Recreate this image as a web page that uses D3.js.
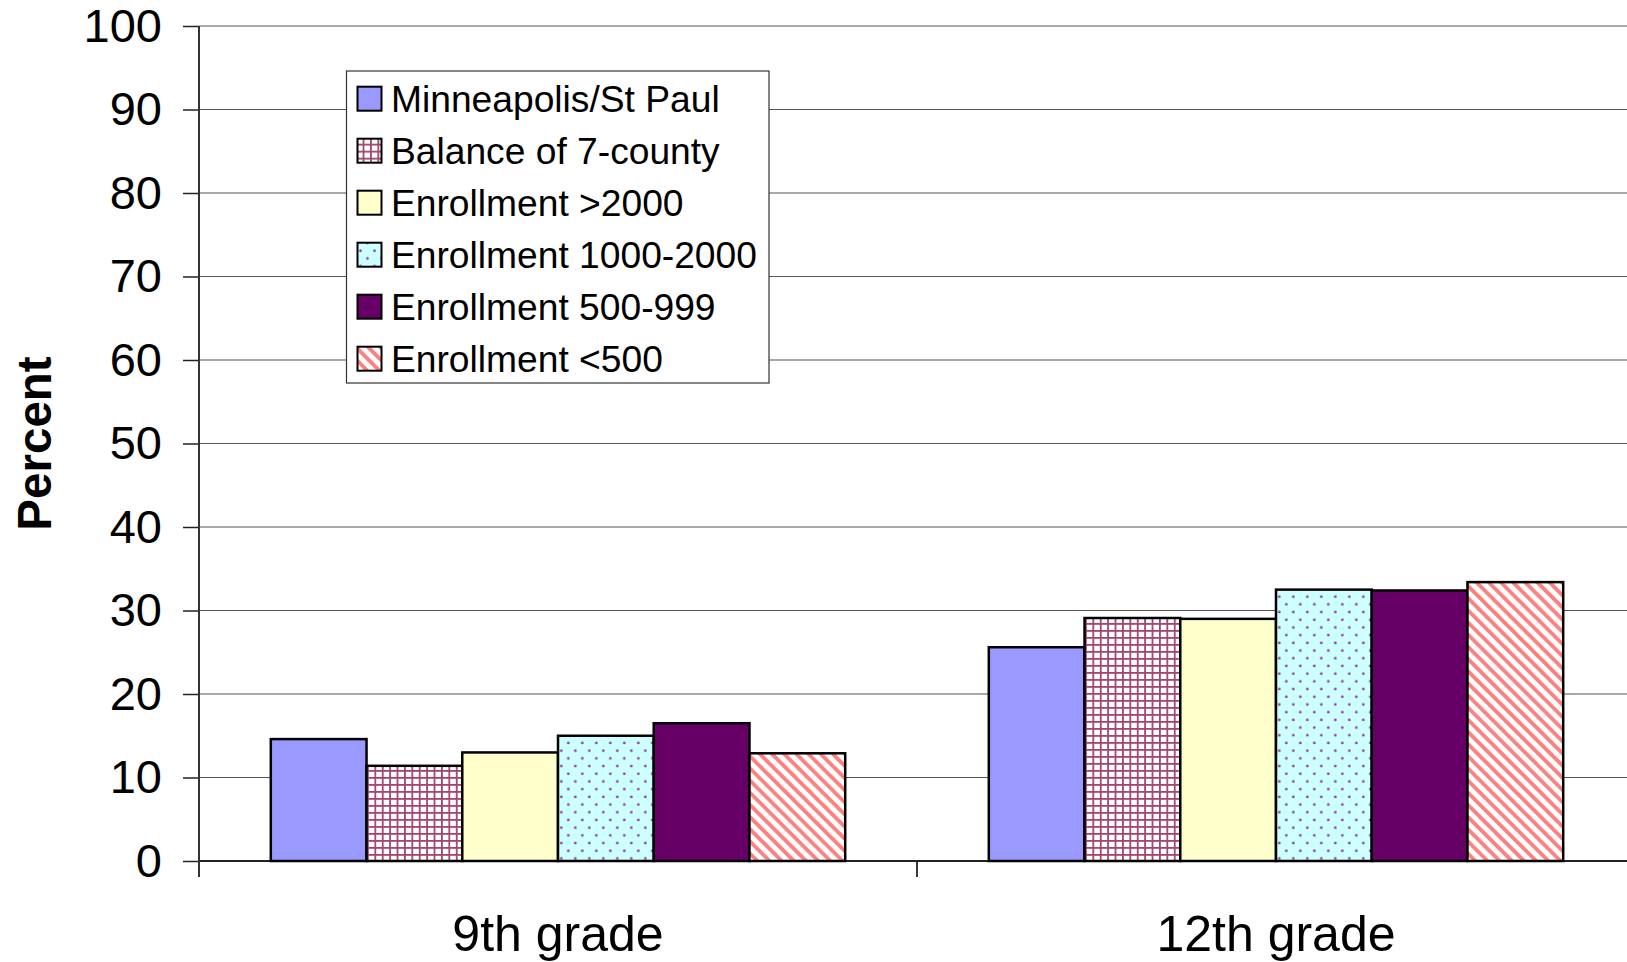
<!DOCTYPE html>
<html>
<head>
<meta charset="utf-8">
<script src="https://cdnjs.cloudflare.com/ajax/libs/d3/7.8.5/d3.min.js"></script>
<style>
  body { margin: 0; background: #fff; }
  text { font-family: "Liberation Sans", Arial, sans-serif; fill: #000; }
</style>
</head>
<body>
<div id="chart"></div>
<script>
var categories = ['9th grade', '12th grade'];
var seriesNames = ['Minneapolis/St Paul', 'Balance of 7-county', 'Enrollment >2000',
  'Enrollment 1000-2000', 'Enrollment 500-999', 'Enrollment <500'];
var grade9 = [14.6, 11.4, 13.0, 15.0, 16.5, 12.9];
var grade12 = [25.6, 29.1, 29.0, 32.5, 32.4, 33.4];
var yTicks = [0, 10, 20, 30, 40, 50, 60, 70, 80, 90, 100];

var width = 1627, height = 962;
// note: "top" is taken by window.top, so plot edges get their own names
var plotLeft = 199, plotRight = 1635, plotTop = 26, plotBottom = 861;

var svg = d3.select('#chart').append('svg')
    .attr('width', width)
    .attr('height', height);

var defs = svg.append('defs');

// small grid
var pGrid = defs.append('pattern').attr('id', 'pGrid')
    .attr('patternUnits', 'userSpaceOnUse')
    .attr('width', 7.4).attr('height', 7);
pGrid.append('rect').attr('width', 7.4).attr('height', 7).attr('fill', '#fff');
pGrid.append('rect').attr('width', 1.8).attr('height', 7).attr('fill', '#a3466f');
pGrid.append('rect').attr('width', 7.4).attr('height', 1.8).attr('fill', '#a3466f');

// dots
var pDots = defs.append('pattern').attr('id', 'pDots')
    .attr('patternUnits', 'userSpaceOnUse')
    .attr('width', 14).attr('height', 15.4);
pDots.append('rect').attr('width', 14).attr('height', 15.4).attr('fill', '#ccffff');
pDots.append('circle').attr('cx', 3.5).attr('cy', 3.8).attr('r', 1.3).attr('fill', '#993399');
pDots.append('circle').attr('cx', 10.5).attr('cy', 11.5).attr('r', 1.3).attr('fill', '#993399');

// wide downward diagonal
var pDiag = defs.append('pattern').attr('id', 'pDiag')
    .attr('patternUnits', 'userSpaceOnUse')
    .attr('width', 8.6).attr('height', 8.6)
    .attr('patternTransform', 'rotate(-45)');
pDiag.append('rect').attr('width', 8.6).attr('height', 8.6).attr('fill', '#fff');
pDiag.append('rect').attr('width', 3.8).attr('height', 8.6).attr('fill', '#ff8080');

var fills = ['#9999ff', 'url(#pGrid)', '#ffffcc', 'url(#pDots)', '#660066', 'url(#pDiag)'];

var y = d3.scaleLinear().domain([0, 100]).range([plotBottom, plotTop]);
var x0 = d3.scaleBand().domain(categories).range([plotLeft, plotRight])
    .paddingInner(0.2).paddingOuter(0.1);
var x1 = d3.scaleBand().domain(d3.range(seriesNames.length)).range([0, x0.bandwidth()]);

// gridlines
svg.append('g').selectAll('line')
  .data(yTicks)
  .enter().append('line')
    .attr('x1', plotLeft).attr('x2', width)
    .attr('y1', function(d) { return y(d); })
    .attr('y2', function(d) { return y(d); })
    .attr('stroke', function(d) { return d === 0 ? '#222' : '#555'; })
    .attr('stroke-width', function(d) { return d === 0 ? 1.8 : 1.2; });

// y axis
var yAxis = svg.append('g')
    .attr('transform', 'translate(' + plotLeft + ',0)')
    .call(d3.axisLeft(y).tickValues(yTicks).tickSize(16).tickPadding(21));
yAxis.select('.domain').remove();
yAxis.selectAll('.tick line').attr('stroke', '#222').attr('stroke-width', 1.5);
yAxis.selectAll('text').style('font-size', '47px').attr('fill', '#000');
svg.append('line')
    .attr('x1', plotLeft).attr('x2', plotLeft)
    .attr('y1', plotTop).attr('y2', plotBottom + 16)
    .attr('stroke', '#333').attr('stroke-width', 2);

// category ticks
var step = x0.step();
var bounds = [1, 2].map(function(i) { return plotLeft + i * step; });
svg.append('g').selectAll('line')
  .data(bounds)
  .enter().append('line')
    .attr('x1', function(d) { return d; })
    .attr('x2', function(d) { return d; })
    .attr('y1', plotBottom).attr('y2', plotBottom + 16)
    .attr('stroke', '#222').attr('stroke-width', 1.8);

// bars
var rows = [grade9, grade12];
var groups = svg.append('g').selectAll('g')
  .data(categories)
  .enter().append('g')
    .attr('transform', function(d) { return 'translate(' + x0(d) + ',0)'; });

groups.selectAll('rect')
  .data(function(d, i) {
    return rows[i].map(function(v, j) { return { s: j, v: v }; });
  })
  .enter().append('rect')
    .attr('x', function(d) { return x1(d.s); })
    .attr('width', x1.bandwidth())
    .attr('y', function(d) { return y(d.v); })
    .attr('height', function(d) { return y(0) - y(d.v); })
    .attr('fill', function(d) { return fills[d.s]; })
    .attr('stroke', '#000')
    .attr('stroke-width', 2.5);

// category labels
svg.append('g').selectAll('text')
  .data(categories)
  .enter().append('text')
    .attr('x', function(d) { return x0(d) + x0.bandwidth() / 2; })
    .attr('y', 951)
    .attr('text-anchor', 'middle')
    .style('font-size', '50px')
    .text(function(d) { return d; });

// y title
svg.append('text')
    .attr('transform', 'translate(51,' + ((plotTop + plotBottom) / 2) + ') rotate(-90)')
    .attr('text-anchor', 'middle')
    .style('font-size', '47.5px')
    .style('font-weight', 'bold')
    .text('Percent');

// legend
var legend = svg.append('g');
legend.append('rect')
    .attr('x', 346.5).attr('y', 71)
    .attr('width', 422.5).attr('height', 312)
    .attr('fill', '#fff')
    .attr('stroke', '#333').attr('stroke-width', 1.2);

var items = legend.selectAll('g.item')
  .data(seriesNames)
  .enter().append('g')
    .attr('class', 'item')
    .attr('transform', function(d, i) { return 'translate(0,' + (98.7 + i * 52) + ')'; });

items.append('rect')
    .attr('x', 357.5).attr('y', -12)
    .attr('width', 24).attr('height', 24)
    .attr('fill', function(d, i) { return fills[i]; })
    .attr('stroke', '#000').attr('stroke-width', 2);

items.append('text')
    .attr('x', 391)
    .attr('dy', '0.35em')
    .style('font-size', '37.2px')
    .text(function(d) { return d; });
</script>
</body>
</html>
